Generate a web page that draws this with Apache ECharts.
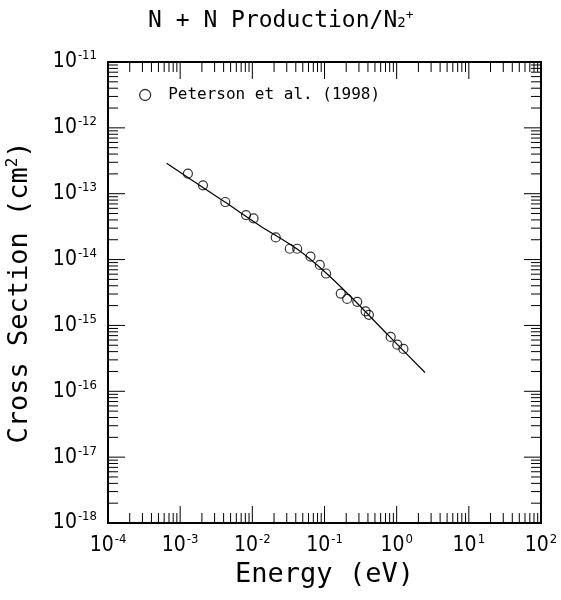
<!DOCTYPE html>
<html>
<head>
<meta charset="utf-8">
<script src="https://cdn.jsdelivr.net/npm/echarts@6/dist/echarts.min.js"></script>
<style>
html,body{margin:0;padding:0;background:#fff;}
#chart{width:561px;height:600px;}
</style>
</head>
<body>
<div id="chart"></div>
<script>
// ---- data ----
const energy = [1.28e-3, 2.07e-3, 4.22e-3, 8.18e-3, 1.04e-2, 2.11e-2, 3.30e-2, 4.18e-2, 6.40e-2, 8.61e-2, 0.105, 0.168, 0.206, 0.284, 0.371, 0.412, 0.826, 1.02, 1.24];
const crossSection = [2.02e-13, 1.34e-13, 7.48e-14, 4.74e-14, 4.23e-14, 2.17e-14, 1.46e-14, 1.46e-14, 1.11e-14, 8.28e-15, 6.14e-15, 3.05e-15, 2.53e-15, 2.28e-15, 1.64e-15, 1.45e-15, 6.68e-16, 5.10e-16, 4.39e-16];
const fitEnergy = [6.49e-4, 4.22e-3, 1.29e-2, 4.22e-2, 0.1033, 0.245, 0.774, 2.47];
const fitCross = [2.90e-13, 7.40e-14, 3.24e-14, 1.43e-14, 6.37e-15, 2.56e-15, 7.00e-16, 1.93e-16];
const xExponents = [-4, -3, -2, -1, 0, 1, 2];
const yExponents = [-18, -17, -16, -15, -14, -13, -12, -11];
const minorMultipliers = [2, 3, 4, 5, 6, 7, 8, 9];
const legendLabel = 'Peterson et al. (1998)';

const xMin = Math.pow(10, xExponents[0]), xMax = Math.pow(10, xExponents[xExponents.length - 1]);
const yMin = Math.pow(10, yExponents[0]), yMax = Math.pow(10, yExponents[yExponents.length - 1]);

const MAJOR = 17, MINOR = 10;
const xTicks = [], yTicks = [];
xExponents.forEach((e, i) => {
  if (i > 0 && i < xExponents.length - 1) xTicks.push([Math.pow(10, e), yMin, MAJOR]);
  if (i < xExponents.length - 1) minorMultipliers.forEach(m => xTicks.push([m * Math.pow(10, e), yMin, MINOR]));
});
yExponents.forEach((e, i) => {
  if (i > 0 && i < yExponents.length - 1) yTicks.push([xMin, Math.pow(10, e), MAJOR]);
  if (i < yExponents.length - 1) minorMultipliers.forEach(m => yTicks.push([xMin, m * Math.pow(10, e), MINOR]));
});

const LBL = "'Liberation Sans Narrow','DejaVu Sans Condensed',sans-serif";
const MONO = "'DejaVu Sans Mono',monospace";

function powLabel(v) {
  const e = Math.round(Math.log10(v));
  return '{b|10}{e|' + e + '}';
}
const labelRich = {
  b: { fontFamily: LBL, fontSize: 21, fontWeight: 'normal', color: '#000' },
  e: { fontFamily: LBL, fontSize: 13, fontWeight: 'normal', color: '#000', padding: [0, 0, 12, 1] }
};

const tickStyle = { stroke: '#000', lineWidth: 1 };
function renderXTick(params, api) {
  const v = api.value(0), len = api.value(2);
  const pb = api.coord([v, yMin]), pt = api.coord([v, yMax]);
  return { type: 'group', children: [
    { type: 'line', shape: { x1: pb[0], y1: pb[1], x2: pb[0], y2: pb[1] - len }, style: tickStyle },
    { type: 'line', shape: { x1: pt[0], y1: pt[1], x2: pt[0], y2: pt[1] + len }, style: tickStyle }
  ]};
}
function renderYTick(params, api) {
  const v = api.value(1), len = api.value(2);
  const pl = api.coord([xMin, v]), pr = api.coord([xMax, v]);
  return { type: 'group', children: [
    { type: 'line', shape: { x1: pl[0], y1: pl[1], x2: pl[0] + len, y2: pl[1] }, style: tickStyle },
    { type: 'line', shape: { x1: pr[0], y1: pr[1], x2: pr[0] - len, y2: pr[1] }, style: tickStyle }
  ]};
}

const chart = echarts.init(document.getElementById('chart'), null, { renderer: 'canvas' });
chart.setOption({
  backgroundColor: '#fff',
  animation: false,
  title: {
    text: '{a|N + N Production/N}{s|2}{p|+}',
    left: 143, top: 4,
    textStyle: {
      fontWeight: 'normal',
      rich: {
        a: { fontFamily: MONO, fontSize: 23, fontWeight: 'normal', color: '#000' },
        s: { fontFamily: MONO, fontSize: 14, fontWeight: 'normal', color: '#000', padding: [0, 0, -4, 0] },
        p: { fontFamily: MONO, fontSize: 13, fontWeight: 'normal', color: '#000', padding: [0, 0, 12, 0] }
      }
    }
  },
  legend: {
    data: [legendLabel],
    left: 134, top: 82,
    icon: 'circle',
    itemWidth: 36, itemHeight: 11,
    itemStyle: { color: 'rgba(0,0,0,0)', borderColor: '#000', borderWidth: 1.3 },
    textStyle: { fontFamily: MONO, fontSize: 16, color: '#000' }
  },
  grid: { left: 108, right: 20, top: 62, bottom: 77, containLabel: false, outerBoundsMode: 'none',
    show: true, borderColor: '#000', borderWidth: 2, backgroundColor: 'transparent' },
  xAxis: {
    type: 'log', logBase: 10, min: xMin, max: xMax, interval: 1,
    name: 'Energy (eV)', nameLocation: 'middle', nameGap: 38,
    nameTextStyle: { fontFamily: MONO, fontSize: 27, color: '#000' },
    axisLine: { show: true, lineStyle: { color: '#000', width: 2 } },
    axisTick: { show: false },
    splitLine: { show: false },
    axisLabel: { margin: 10, formatter: powLabel, rich: labelRich, showMinLabel: true, showMaxLabel: true }
  },
  yAxis: {
    type: 'log', logBase: 10, min: yMin, max: yMax, interval: 1,
    name: '{a|Cross Section (cm}{s|2}{a|)}', nameLocation: 'middle', nameGap: 73, nameRotate: 90,
    nameTextStyle: { rich: {
      a: { fontFamily: MONO, fontSize: 27, color: '#000' },
      s: { fontFamily: MONO, fontSize: 16, color: '#000', padding: [0, 0, 14, 0] }
    } },
    axisLine: { show: true, lineStyle: { color: '#000', width: 2 } },
    axisTick: { show: false },
    splitLine: { show: false },
    axisLabel: { margin: 11, formatter: powLabel, rich: labelRich, showMinLabel: true, showMaxLabel: true }
  },
  series: [
    {
      type: 'line', name: 'fit', data: fitEnergy.map((x, i) => [x, fitCross[i]]),
      showSymbol: false, smooth: 0.3, lineStyle: { color: '#000', width: 1.2 }, silent: true
    },
    {
      type: 'scatter', name: legendLabel, data: energy.map((x, i) => [x, crossSection[i]]),
      symbol: 'circle', symbolSize: 9,
      itemStyle: { color: 'rgba(0,0,0,0)', borderColor: '#000', borderWidth: 1.2 }
    },
    { type: 'custom', name: 'xticks', data: xTicks, renderItem: renderXTick, silent: true, clip: false },
    { type: 'custom', name: 'yticks', data: yTicks, renderItem: renderYTick, silent: true, clip: false }
  ]
});
</script>
</body>
</html>
